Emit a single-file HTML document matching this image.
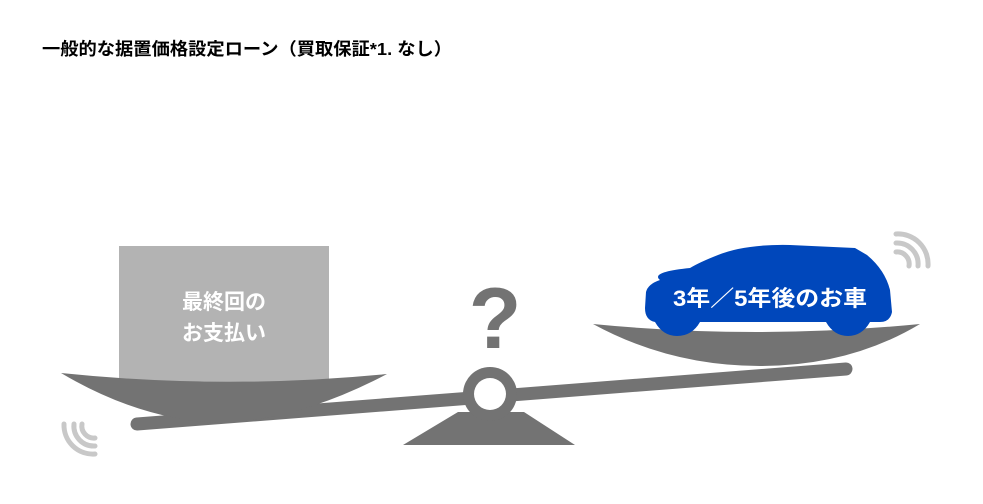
<!DOCTYPE html>
<html><head><meta charset="utf-8"><style>
html,body{margin:0;padding:0;background:#fff;width:983px;height:504px;overflow:hidden}
</style></head><body>
<svg width="983" height="504" viewBox="0 0 983 504" xmlns="http://www.w3.org/2000/svg" style="position:absolute;left:0;top:0">
<text x="42" y="55" font-family="Liberation Sans, Noto Sans CJK JP, sans-serif" font-weight="bold" font-size="17.5" fill="#000" textLength="410" lengthAdjust="spacingAndGlyphs">一般的な据置価格設定ローン（買取保証*1. なし）</text>
<rect x="119" y="246" width="210" height="140" fill="#b3b3b3"/>
<text x="224" y="309" text-anchor="middle" font-family="Liberation Sans, Noto Sans CJK JP, sans-serif" font-weight="bold" font-size="21" fill="#fff">最終回の</text>
<text x="224" y="340" text-anchor="middle" font-family="Liberation Sans, Noto Sans CJK JP, sans-serif" font-weight="bold" font-size="21" fill="#fff">お支払い</text>
<line x1="137" y1="424" x2="846" y2="369" stroke="#737373" stroke-width="13" stroke-linecap="round"/>
<path d="M61 373 Q224 390 387 374 Q300 420 220 423 Q140 420 61 373 Z" fill="#737373"/>
<path d="M593 324 Q756 340 920 324 Q850 366 760 366 Q670 366 593 324 Z" fill="#737373"/>
<path d="M458 412 L524 412 L575 445 L403 445 Z" fill="#737373"/>
<circle cx="490" cy="394" r="27" fill="#737373"/>
<circle cx="490" cy="394" r="16" fill="#fff"/>
<text x="495" y="348" text-anchor="middle" font-family="Liberation Sans, sans-serif" font-weight="bold" font-size="86" fill="#737373">?</text>
<path d="M660 280 Q650 272 690 268 Q700 262 718 255 Q745 244 790 245 L855 248 L867 255 Q885 270 890 290 L892 312 Q890 322 880 322 L870 322 Q862 336 848 336 Q834 336 826 322 L700 322 Q692 336 677 336 Q663 336 655 322 Q645 320 645 308 L646 292 Q648 284 660 280 Z" fill="#0047bb"/>
<text x="770" y="306" text-anchor="middle" font-family="Liberation Sans, Noto Sans CJK JP, sans-serif" font-weight="bold" font-size="22" fill="#fff" textLength="194" lengthAdjust="spacingAndGlyphs">3年／5年後のお車</text>
<g fill="none" stroke="#c8c8c8" stroke-width="5" stroke-linecap="round">
<path d="M95 438 A12 12 0 0 1 82 424"/>
<path d="M95 446 A20 20 0 0 1 74 424"/>
<path d="M95 454 A29 29 0 0 1 64 424"/>
<path d="M896 252 A12 12 0 0 1 909 266"/>
<path d="M896 243 A21 21 0 0 1 918 266"/>
<path d="M896 234 A30 30 0 0 1 928 266"/>
</g>
</svg>
</body></html>
